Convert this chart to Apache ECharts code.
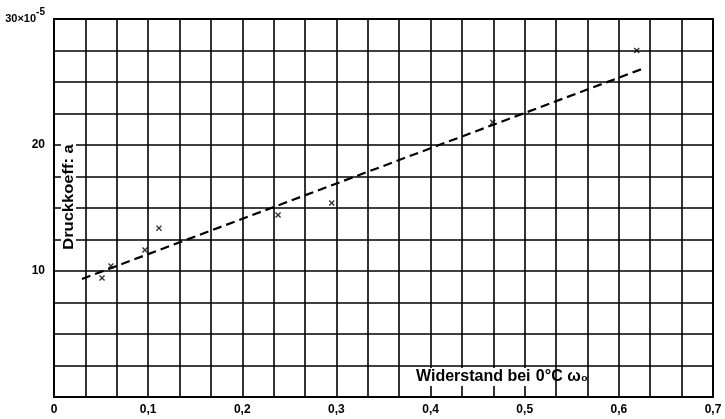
<!DOCTYPE html>
<html><head><meta charset="utf-8">
<script src="https://cdn.jsdelivr.net/npm/echarts@6/dist/echarts.min.js"></script>
<style>html,body{margin:0;padding:0;background:#fff}#c{width:725px;height:419px}</style>
</head><body><div id="c"></div>
<script>
// Measured points (Widerstand bei 0°C, Druckkoeff. ×10^-5)
const pointsX = [0.051, 0.0605, 0.0966, 0.1115, 0.238, 0.295, 0.466, 0.619];
const pointsY = [9.44, 10.4, 11.67, 13.4, 14.44, 15.4, 21.8, 27.5];
// Dashed fit line endpoints
const fitX = [0.0297, 0.627];
const fitY = [9.37, 26.1];
const xLabels = ['0', '0,1', '0,2', '0,3', '0,4', '0,5', '0,6', '0,7'];
const yAxisName = 'Druckkoeff: a';
const xAxisName = 'Widerstand bei 0°C ω₀';

const chart = echarts.init(document.getElementById('c'));
const font = '"Liberation Sans", Arial, sans-serif';
const crossPath = 'path://M0,1.6L1.6,0L5,3.4L8.4,0L10,1.6L6.6,5L10,8.4L8.4,10L5,6.6L1.6,10L0,8.4L3.4,5Z';

chart.setOption({
  animation: false,
  backgroundColor: '#fff',
  grid: { left: 54, right: 12, top: 19, bottom: 22, containLabel: false, outerBoundsMode: 'none', show: true, borderColor: '#000', borderWidth: 2, backgroundColor: 'transparent' },
  xAxis: {
    type: 'value', min: 0, max: 0.7, interval: 1/30,
    axisLine: { show: false }, axisTick: { show: false },
    splitLine: { show: true, lineStyle: { color: '#000', width: 1.6 } },
    axisLabel: {
      margin: 7, color: '#000', fontFamily: font, fontWeight: 'bold', fontSize: 12,
      showMinLabel: true, showMaxLabel: true,
      formatter: function (v) {
        const k = v * 10;
        if (Math.abs(k - Math.round(k)) < 1e-6) return xLabels[Math.round(k)] || '';
        return '';
      }
    }
  },
  yAxis: {
    type: 'value', min: 0, max: 30, interval: 2.5,
    axisLine: { show: false }, axisTick: { show: false },
    splitLine: { show: true, lineStyle: { color: '#000', width: 1.6 } },
    axisLabel: {
      margin: 9, color: '#000', fontFamily: font, fontWeight: 'bold', fontSize: 12,
      formatter: function (v) {
        if (v === 30) return '{b|30×10}{s|-5}';
        if (v === 10 || v === 20) return String(v);
        return '';
      },
      rich: {
        b: { fontFamily: font, fontWeight: 'bold', fontSize: 11, color: '#000' },
        s: { fontFamily: font, fontWeight: 'bold', fontSize: 10, color: '#000', verticalAlign: 'bottom', padding: [0, 0, 14, 0] }
      }
    }
  },
  graphic: [{
    type: 'text', x: 61, y: 197, rotation: Math.PI / 2, scaleX: 1.1, z: 100,
    style: {
      text: yAxisName, align: 'center', verticalAlign: 'top',
      font: 'bold 15px "Liberation Sans", Arial, sans-serif', fill: '#000',
      backgroundColor: '#fff', padding: [0, 3, 0, 3]
    }
  }, {
    type: 'text', left: 414, top: 368, z: 100,
    style: {
      text: '{a|Widerstand bei} {c|0°C ω₀}',
      rich: {
        a: { fontFamily: font, fontWeight: 'bold', fontSize: 16, fill: '#000', backgroundColor: '#fff', padding: [1, 2, 1, 2] },
        c: { fontFamily: font, fontWeight: 'bold', fontSize: 16, fill: '#000' }
      }
    }
  }],
  series: [
    {
      type: 'line', data: fitX.map((x, i) => [x, fitY[i]]), symbol: 'none',
      lineStyle: { color: '#000', width: 2.2, type: [9, 5] }, z: 3
    },
    {
      type: 'scatter', data: pointsX.map((x, i) => [x, pointsY[i]]),
      symbol: crossPath, symbolSize: 6, itemStyle: { color: '#000' }, z: 4
    }
  ]
});
</script></body></html>
